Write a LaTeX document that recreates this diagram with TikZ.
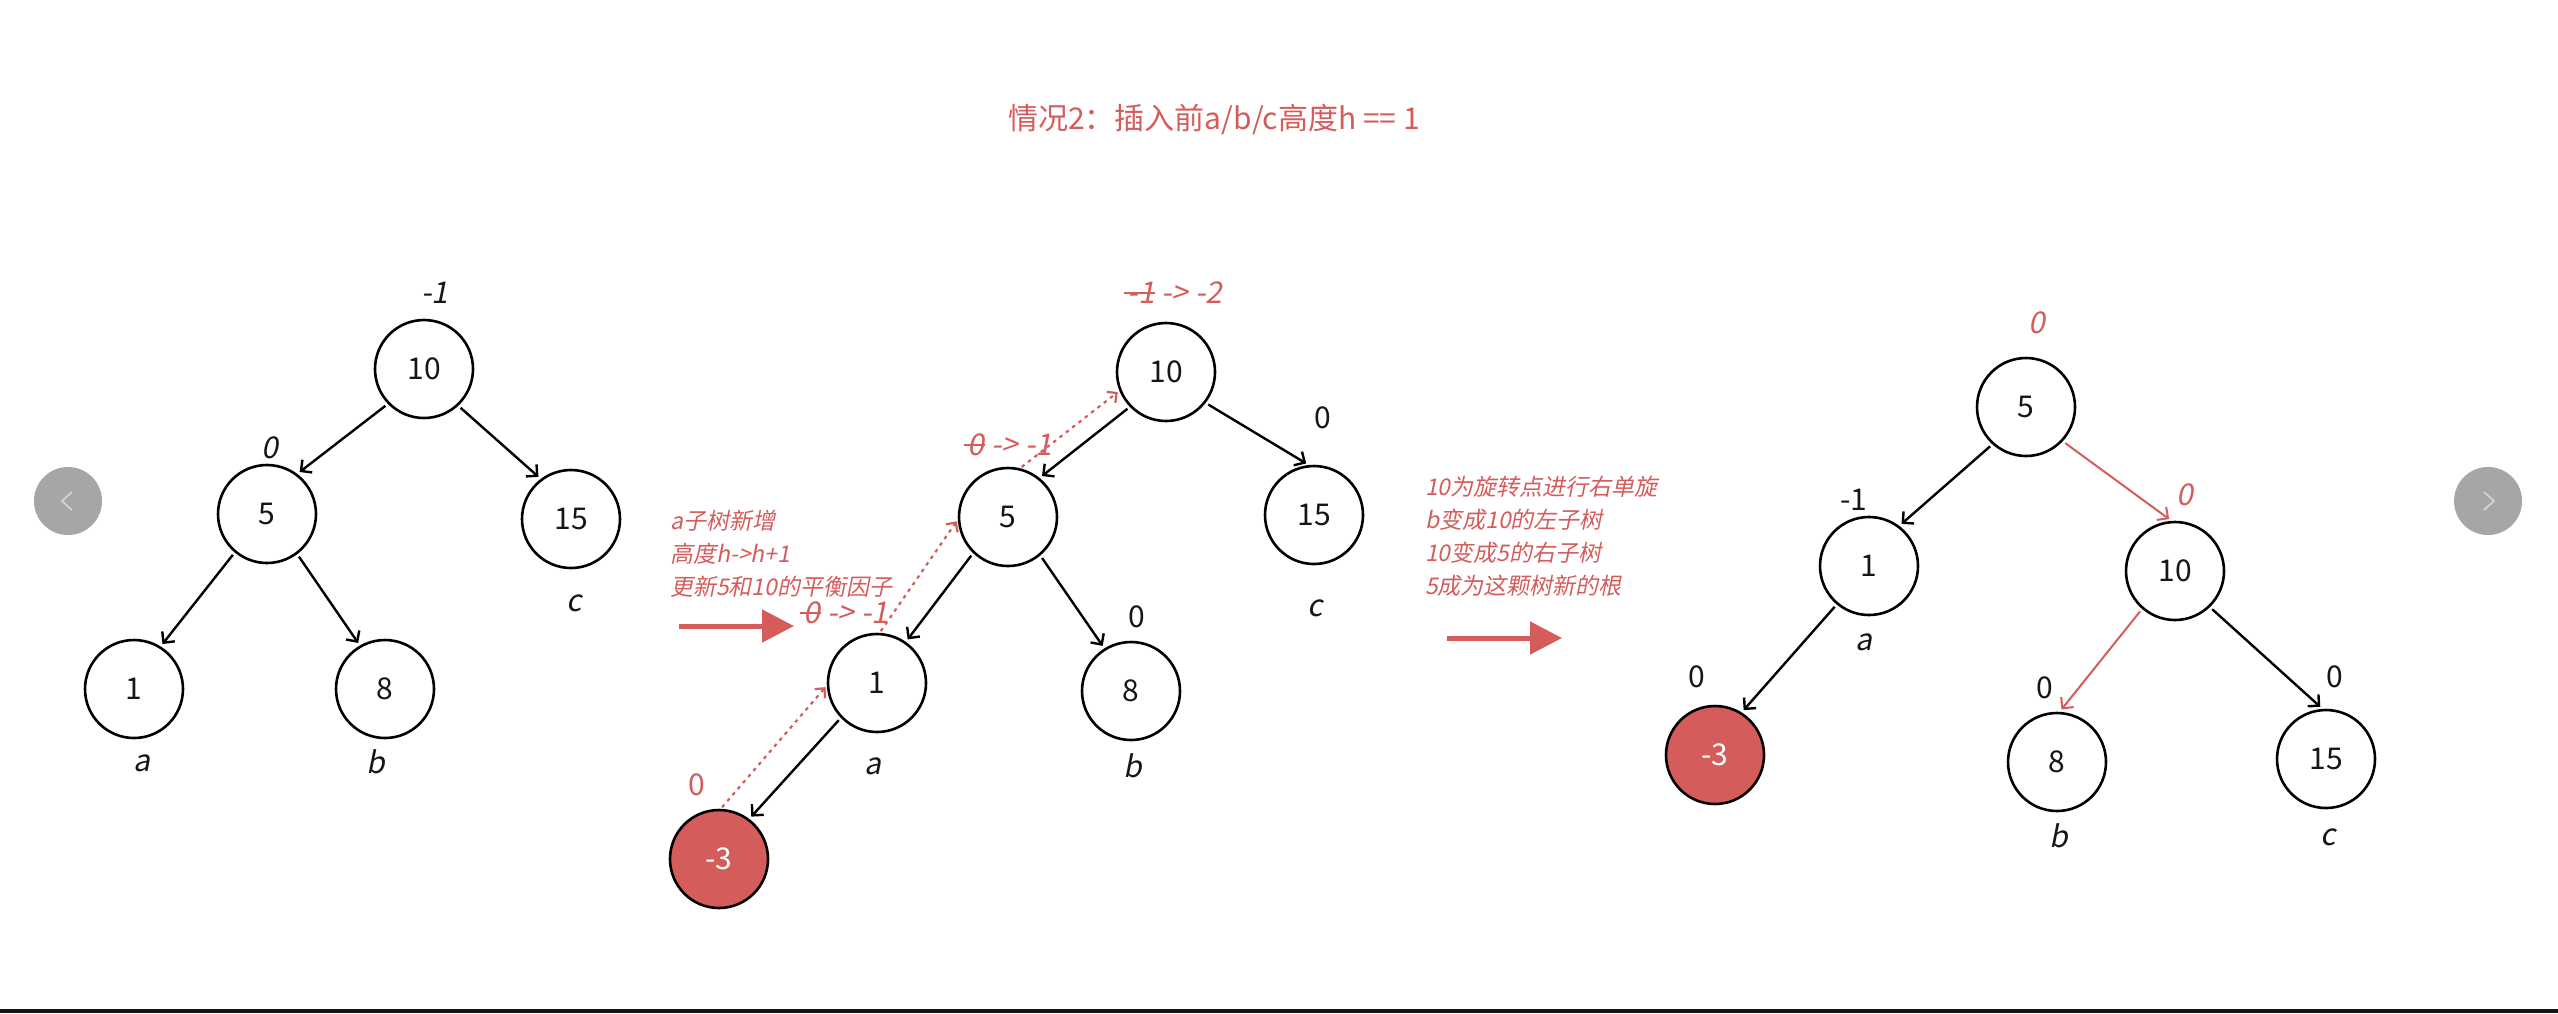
\documentclass[tikz,border=0pt]{standalone}
\usepackage{fontspec}
\setmainfont{Noto Sans CJK SC}
\newfontfamily\itf[FakeSlant=0.2]{Noto Sans CJK SC}
\usetikzlibrary{arrows.meta}
\definecolor{mred}{RGB}{212,93,92}
\definecolor{ink}{RGB}{22,22,22}
\definecolor{btn}{RGB}{166,166,166}
\definecolor{chev}{RGB}{215,215,215}
\definecolor{barc}{RGB}{21,21,21}
\newcommand\strk[1]{\begingroup\setbox0=\hbox{#1}\rlap{\kern-0.12em\rule[0.33em]{\dimexpr\wd0+0.12em\relax}{0.065em}}\box0\endgroup}
\tikzset{
  tn/.style={circle, draw=black, line width=2.6pt, minimum size=98pt, inner sep=0pt, text=ink, font=\fontsize{30}{36}\selectfont},
  tnred/.style={tn, fill=mred, text=white},
  edge/.style={draw=black, line width=2.4pt, shorten >=3pt, shorten <=3pt, -{Straight Barb[length=8pt,width=16pt]}},
  rededge/.style={draw=mred, line width=2pt, shorten >=3pt, shorten <=3pt, -{Straight Barb[length=8pt,width=16pt]}},
  dotarrow/.style={draw=mred, line width=2.2pt, dash pattern=on 3.5pt off 4.5pt, shorten >=2pt, shorten <=2pt, -{Straight Barb[length=7pt,width=14pt]}},
  lbl/.style={inner sep=0pt, text=ink, font=\fontsize{30}{36}\selectfont},
  ilbl/.style={lbl, font=\fontsize{30}{36}\selectfont\itf},
  rlbl/.style={lbl, text=mred},
  rilbl/.style={ilbl, text=mred},
  note/.style={inner sep=0pt, text=mred, align=left, anchor=west, font=\fontsize{23}{33}\selectfont\itf},
  bigarrow/.style={draw=mred, line width=5pt, -{Triangle[length=32pt,width=32pt]}},
  navbtn/.style={circle, fill=btn, minimum size=68pt, inner sep=0pt},
  chevline/.style={draw=chev, line width=1.6pt}
}
\begin{document}
\begin{tikzpicture}[x=1pt,y=-1pt]
\useasboundingbox[fill=white] (0,0) rectangle (2558,1013);
\fill[barc] (0,1009) rectangle (2558,1013);

% title
\node[lbl, text=mred] (title) at (1214,120) {情况2：插入前a/b/c高度h == 1};

% nav buttons
\node[navbtn] (navL) at (68,501) {};
\draw[chevline] ([shift={(4,-9)}]navL.center) -- ([shift={(-6,0)}]navL.center) -- ([shift={(4,9)}]navL.center);
\node[navbtn] (navR) at (2488,501) {};
\draw[chevline] ([shift={(-4,-9)}]navR.center) -- ([shift={(6,0)}]navR.center) -- ([shift={(-4,9)}]navR.center);

% ---------- tree 1 ----------
\node[tn] (A10) at (424,369) {10};
\node[tn] (A5) at (267,514) {5};
\node[tn] (A15) at (571,519) {15};
\node[tn] (A1) at (134,689) {1};
\node[tn] (A8) at (385,689) {8};
\draw[edge] (A10.224) -- (A5.53);
\draw[edge] (A10.313) -- (A15.127);
\draw[edge] (A5.230) -- (A1.58);
\draw[edge] (A5.307) -- (A8.120);
\node[ilbl] (A10b) at (435,293) {-1};
\node[ilbl] (A5b) at (270,448) {0};
\node[ilbl] (A15n) at (574,603) {c};
\node[ilbl] (A1n) at (142,763) {a};
\node[ilbl] (A8n) at (376,762) {b};

% ---------- tree 2 ----------
\node[tn] (B10) at (1166,372) {10};
\node[tn] (B5) at (1008,517) {5};
\node[tn] (B15) at (1314,515) {15};
\node[tn] (B1) at (877,683) {1};
\node[tn] (B8) at (1131,691) {8};
\node[tnred] (Bm3) at (719,859) {-3};
\draw[edge] (B10.224) -- (B5.51);
\draw[edge] (B10.322) -- (B15.96);
\draw[edge] (B5.226) -- (B1.55);
\draw[edge] (B5.310) -- (B8.122);
\draw[edge] (B1.224) -- (Bm3.53);
\draw[dotarrow] (Bm3.88) -- (B1.183);
\draw[dotarrow] (B1.87) -- (B5.183);
\draw[dotarrow] (B5.76) -- (B10.202);
\node[rilbl] (B10b) at (1175,293) {\strk{-1} -> -2};
\node[lbl] (B15b) at (1323,418) {0};
\node[rilbl] (B5b) at (1010,445) {\strk{0} -> -1};
\node[rilbl] (B1b) at (846,613) {\strk{0} -> -1};
\node[rlbl] (Bm3b) at (697,785) {0};
\node[lbl] (B8b) at (1137,617) {0};
\node[ilbl] (B1n) at (873,766) {a};
\node[ilbl] (B8n) at (1133,766) {b};
\node[ilbl] (B15n) at (1315,608) {c};
\node[note] (noteB) at (670,554) {a子树新增\\高度h->h+1\\更新5和10的平衡因子};
\coordinate (arB1) at (679,626);
\coordinate (arB2) at (794,626);
\draw[bigarrow] (arB1) -- (arB2);

% ---------- tree 3 ----------
\node[tn] (C5) at (2026,407) {5};
\node[tn] (C1) at (1869,566) {1};
\node[tn] (C10) at (2175,571) {10};
\node[tnred] (Cm3) at (1715,755) {-3};
\node[tn] (C8) at (2057,762) {8};
\node[tn] (C15) at (2326,759) {15};
\draw[edge] (C5.228) -- (C1.53);
\draw[rededge] (C5.317) -- (C10.94);
\draw[edge] (C1.230) -- (Cm3.58);
\draw[rededge] (C10.229) -- (C8.87);
\draw[edge] (C10.314) -- (C15.94);
\node[rilbl] (C5b) at (2037,323) {0};
\node[rilbl] (C10b) at (2185,495) {0};
\node[lbl] (C1b) at (1854,500) {-1};
\node[ilbl] (C1n) at (1864,642) {a};
\node[lbl] (Cm3b) at (1697,677) {0};
\node[lbl] (C8b) at (2045,688) {0};
\node[lbl] (C15b) at (2335,677) {0};
\node[ilbl] (C8n) at (2059,836) {b};
\node[ilbl] (C15n) at (2328,837) {c};
\node[note] (noteC) at (1425,536) {10为旋转点进行右单旋\\b变成10的左子树\\10变成5的右子树\\5成为这颗树新的根};
\coordinate (arC1) at (1447,638);
\coordinate (arC2) at (1562,638);
\draw[bigarrow] (arC1) -- (arC2);
\end{tikzpicture}
\end{document}
